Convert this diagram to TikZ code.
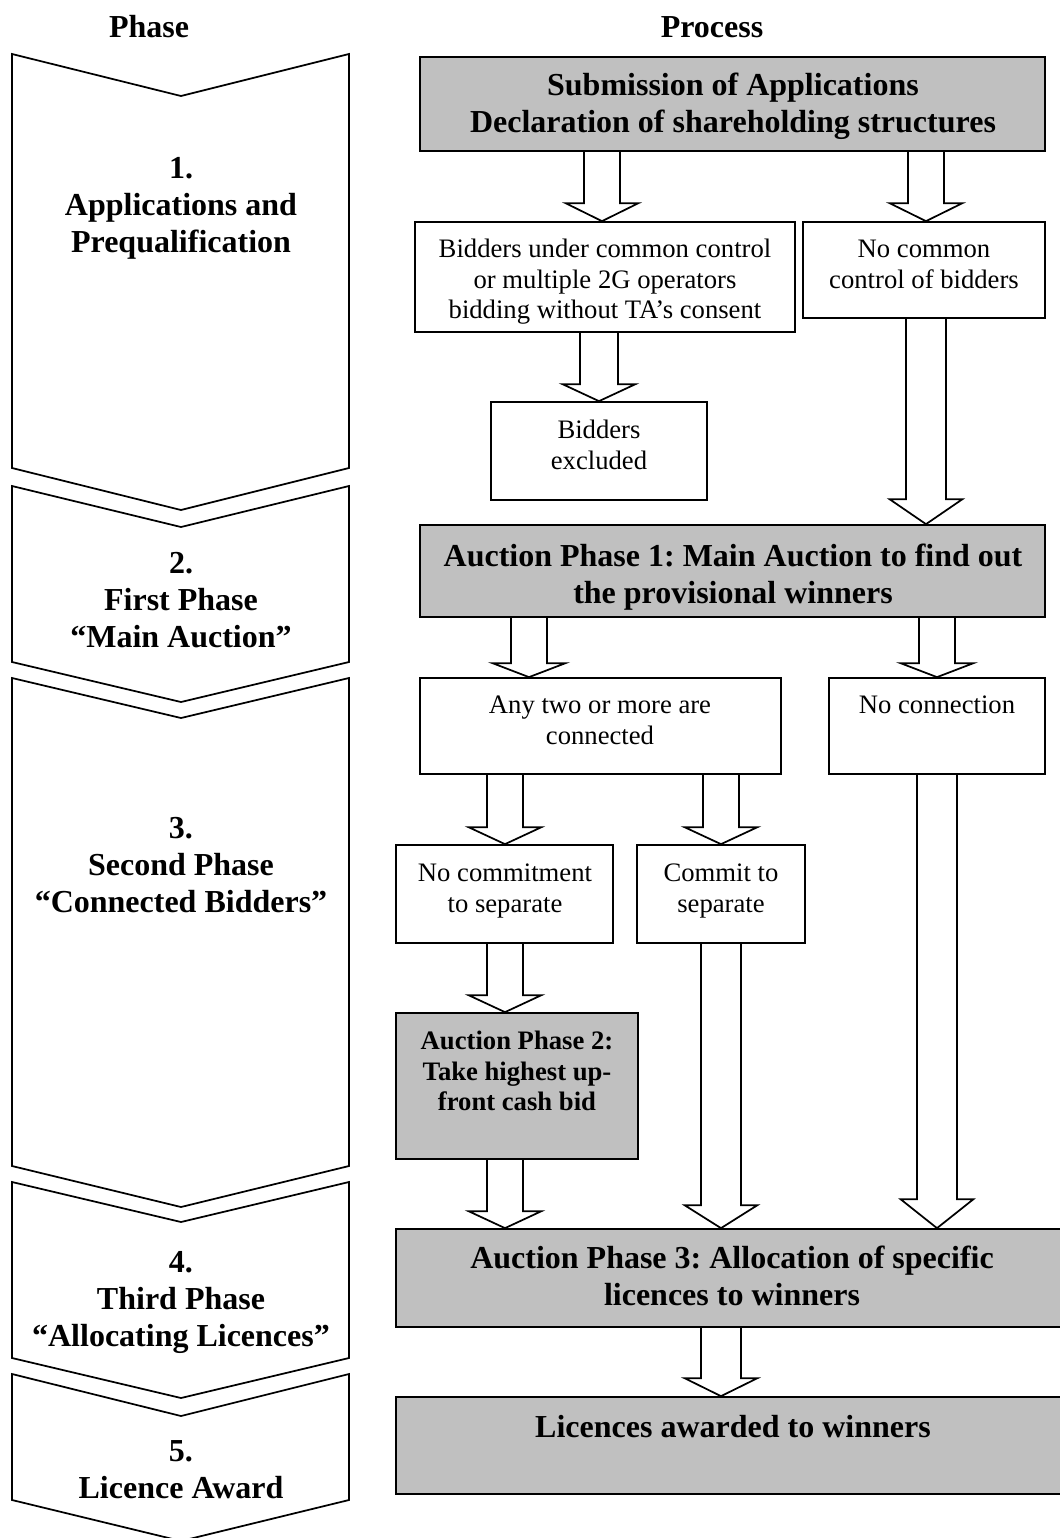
\documentclass[tikz,border=0pt]{standalone}
\usepackage{fontspec}
\setmainfont{Liberation Serif}
\usetikzlibrary{calc,fit}
\definecolor{boxgray}{RGB}{192,192,192}
\frenchspacing
% block arrow: #1 x-coordinate name, #2 from node, #3 to node, #4 head length (px), #5 half shaft width (px)
\newcommand{\barr}[5]{%
  \draw[blk] let \p1=(#2.south -| #1), \p2=(#3.north -| #1) in
    (\x1-#5*0.375pt,\y1) -- (\x1-#5*0.375pt,\y2+#4*0.375pt) -- (\x1-36.5*0.375pt,\y2+#4*0.375pt)
    -- (\x2,\y2) -- (\x1+36.5*0.375pt,\y2+#4*0.375pt) -- (\x1+#5*0.375pt,\y2+#4*0.375pt)
    -- (\x1+#5*0.375pt,\y1);}
\begin{document}
\begin{tikzpicture}[x=0.375pt,y=-0.375pt,
  pbox/.style={draw, line width=0.65pt, inner sep=0pt, fill=white},
  gbox/.style={pbox, fill=boxgray},
  blk/.style={draw, line width=0.65pt, line join=miter},
  chev/.style={draw, line width=0.65pt, line join=miter},
  btw/.style={font=\fontsize{12pt}{13.875pt}\selectfont\bfseries\frenchspacing, align=center, inner sep=0pt, anchor=north},
  rtx/.style={font=\fontsize{10pt}{11.44pt}\selectfont\frenchspacing, align=center, inner sep=0pt, anchor=north},
  bts/.style={font=\fontsize{10pt}{11.44pt}\selectfont\bfseries\frenchspacing, align=center, inner sep=0pt, anchor=north},
  hdr/.style={font=\fontsize{12pt}{13.875pt}\selectfont\bfseries, inner sep=0pt, anchor=base}]
\useasboundingbox (0,0) rectangle (1060,1538);
\clip (0,0) rectangle (1060,1538);

% headers
\node[hdr] (hphase) at (149,37) {Phase};
\node[hdr] (hproc) at (712,37) {Process};

% phase chevrons
\draw[chev] (12,54) -- (181,96) -- (349,54) -- (349,468) -- (181,510) -- (12,468) -- cycle;
\draw[chev] (12,486) -- (181,527) -- (349,486) -- (349,662) -- (181,702) -- (12,662) -- cycle;
\draw[chev] (12,678) -- (181,718) -- (349,678) -- (349,1166) -- (181,1207) -- (12,1166) -- cycle;
\draw[chev] (12,1182) -- (181,1222) -- (349,1182) -- (349,1358) -- (181,1398) -- (12,1358) -- cycle;
\draw[chev] (12,1374) -- (181,1416) -- (349,1374) -- (349,1500) -- (181,1541) -- (12,1500) -- cycle;

\node[btw] (p1) at (181,152.1) {\strut 1.\\Applications and\\Prequalification};
\node[btw] (p2) at (181,547.1) {\strut 2.\\First Phase\\“Main Auction”};
\node[btw] (p3) at (181,812.1) {\strut 3.\\Second Phase\\“Connected Bidders”};
\node[btw] (p4) at (181,1246.1) {\strut 4.\\Third Phase\\“Allocating Licences”};
\node[btw] (p5) at (181,1435.1) {\strut 5.\\Licence Award};

% process boxes
\node[gbox, fit={(420,57) (1045,151)}] (A) {};
\node[pbox, fit={(415,222) (795,332)}] (B) {};
\node[pbox, fit={(803,222) (1045,318)}] (C) {};
\node[pbox, fit={(491,402) (707,500)}] (X) {};
\node[gbox, fit={(420,525) (1045,617)}] (D) {};
\node[pbox, fit={(420,678) (781,774)}] (E) {};
\node[pbox, fit={(829,678) (1045,774)}] (F) {};
\node[pbox, fit={(396,845) (613,943)}] (G) {};
\node[pbox, fit={(637,845) (805,943)}] (H) {};
\node[gbox, fit={(396,1013) (638,1159)}] (I) {};
\node[gbox, fit={(396,1229) (1068,1327)}] (J) {};
\node[gbox, fit={(396,1397) (1068,1494)}] (K) {};

% box texts
\node[btw] (At) at (733,69.1) {\strut Submission of Applications\\Declaration of shareholding structures};
\node[rtx] (Bt) at (605,235.6) {\strut Bidders under common control\\or multiple 2G operators\\bidding without TA’s consent};
\node[rtx] (Ct) at (924,235.6) {\strut No common\\control of bidders};
\node[rtx] (Xt) at (599,416.6) {\strut Bidders\\excluded};
\node[btw] (Dt) at (733,540.1) {\strut Auction Phase 1: Main Auction to find out\\the provisional winners};
\node[rtx] (Et) at (600,691.6) {\strut Any two or more are\\connected};
\node[rtx] (Ft) at (937,691.6) {\strut No connection};
\node[rtx] (Gt) at (505,859.6) {\strut No commitment\\to separate};
\node[rtx] (Ht) at (721,859.6) {\strut Commit to\\separate};
\node[bts] (It) at (517,1027.6) {\strut Auction Phase 2:\\Take highest up-\\front cash bid};
\node[btw] (Jt) at (732,1242.1) {\strut Auction Phase 3: Allocation of specific\\licences to winners};
\node[btw] (Kt) at (733,1411.1) {\strut Licences awarded to winners};

% arrow axes
\coordinate (xa) at (602,0);
\coordinate (xb) at (926,0);
\coordinate (xc) at (599,0);
\coordinate (xd) at (529,0);
\coordinate (xe) at (937,0);
\coordinate (xf) at (505,0);
\coordinate (xg) at (721,0);

% block arrows
\barr{xa}{A}{B}{18}{18}
\barr{xb}{A}{C}{18}{18}
\barr{xc}{B}{X}{17}{19}
\barr{xb}{C}{D}{25}{20}
\barr{xd}{D}{E}{14}{18}
\barr{xe}{D}{F}{14}{18}
\barr{xf}{E}{G}{17}{18}
\barr{xg}{E}{H}{17}{18}
\barr{xf}{G}{I}{17}{18}
\barr{xf}{I}{J}{17}{18}
\barr{xg}{H}{J}{23}{20}
\barr{xe}{F}{J}{29}{20}
\barr{xg}{J}{K}{18}{20}
\end{tikzpicture}
\end{document}
